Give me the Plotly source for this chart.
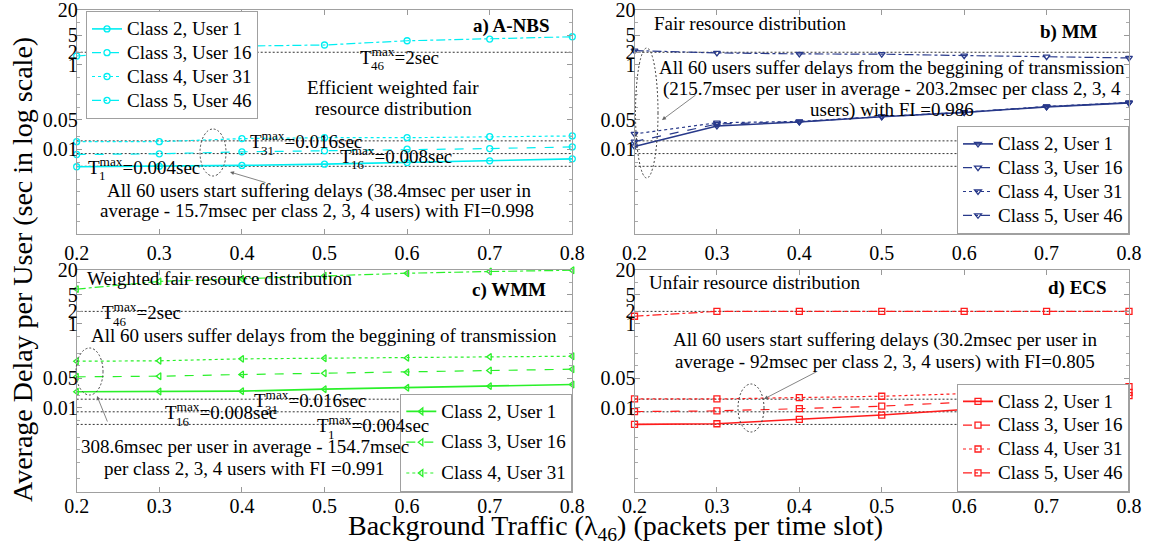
import math
import plotly.graph_objects as go

W, H = 1157, 553
FONT = "Liberation Serif"

# ---------------- data ----------------
traffic = [0.2, 0.3, 0.4, 0.5, 0.6, 0.7, 0.8]
x_tick_vals = [0.2, 0.3, 0.4, 0.5, 0.6, 0.7, 0.8]
x_tick_text = ["0.2", "0.3", "0.4", "0.5", "0.6", "0.7", "0.8"]
y_tick_vals = [0.01, 0.05, 1, 2, 5, 20]
y_tick_text = ["0.01", "0.05", "1", "2", "5", "20"]
y_limits = [1e-4, 20]

# maximum tolerated delays (sec): T46, T31, T16, T1
deadlines = [2, 0.016, 0.008, 0.004]

series_names = ["Class 2, User 1", "Class 3, User 16", "Class 4, User 31", "Class 5, User 46"]

# a) A-NBS
anbs_user1 = [0.0039, 0.0040, 0.0042, 0.0045, 0.0049, 0.0054, 0.0060]
anbs_user16 = [0.0076, 0.0079, 0.0088, 0.0093, 0.0102, 0.0105, 0.0115]
anbs_user31 = [0.0153, 0.0153, 0.0181, 0.0190, 0.0190, 0.0201, 0.0209]
anbs_user46 = [1.63, 2.3, 2.8, 2.97, 3.74, 4.1, 4.65]

# b) MM
mm_user1 = [0.0118, 0.036, 0.0447, 0.0596, 0.0753, 0.102, 0.127]
mm_user16 = [0.0154, 0.040, 0.0452, 0.0600, 0.0758, 0.103, 0.128]
mm_user31 = [0.0233, 0.043, 0.0460, 0.0605, 0.0762, 0.104, 0.129]
mm_user46 = [2.19, 1.93, 1.83, 1.80, 1.67, 1.58, 1.47]

# c) WMM
wmm_user1 = [0.0240, 0.0244, 0.0249, 0.0278, 0.0299, 0.0328, 0.0359]
wmm_user16 = [0.0547, 0.0567, 0.0621, 0.0668, 0.0706, 0.0773, 0.0832]
wmm_user31 = [0.129, 0.132, 0.147, 0.152, 0.155, 0.164, 0.170]
wmm_user46 = [6.8, 10.4, 12.0, 14.2, 16.3, 17.9, 19.2]

# d) ECS
ecs_user1 = [0.0040, 0.00415, 0.0053, 0.0067, 0.0091, 0.0135, 0.0195]
ecs_user16 = [0.0081, 0.0084, 0.0095, 0.0109, 0.0136, 0.0180, 0.0233]
ecs_user31 = [0.0162, 0.0162, 0.0175, 0.0188, 0.0217, 0.0259, 0.0321]
ecs_user46 = [1.53, 2.0, 2.0, 2.0, 2.0, 2.0, 2.0]

# ---------------- helpers ----------------
def px(x):
    return x / W


def py(y):
    return 1 - y / H


fig = go.Figure()

panels = [
    # axis suffix, legend name, colour, marker, series, legend flags
    ("", "legend", "#00eef2", "circle-open",
     [anbs_user1, anbs_user16, anbs_user31, anbs_user46], [True, True, True, True]),
    ("2", "legend2", "#28398a", "triangle-down-open",
     [mm_user1, mm_user16, mm_user31, mm_user46], [True, True, True, True]),
    ("3", "legend3", "#2af02a", "triangle-left-open",
     [wmm_user1, wmm_user16, wmm_user31, wmm_user46], [True, True, True, False]),
    ("4", "legend4", "#ff1c1c", "square-open",
     [ecs_user1, ecs_user16, ecs_user31, ecs_user46], [True, True, True, True]),
]
dashes = ["solid", "dash", "dot", "dashdot"]
widths = [1.6, 1.2, 1.2, 1.2]

for suffix, legend, colour, symbol, series, flags in panels:
    xa, ya = "x" + suffix, "y" + suffix
    for d in deadlines:
        fig.add_trace(go.Scatter(
            x=[traffic[0], traffic[-1]], y=[d, d], mode="lines",
            line=dict(color="#333333", width=1, dash="2px,2px"),
            xaxis=xa, yaxis=ya, showlegend=False, hoverinfo="skip"))
    for i, vals in enumerate(series):
        fig.add_trace(go.Scatter(
            x=traffic, y=vals, mode="lines+markers",
            # legend row spacing follows the legend font; the label itself is drawn larger
            name=f'<span style="font-size:19px">{series_names[i]}</span>',
            line=dict(color=colour, width=widths[i], dash=dashes[i]),
            marker=dict(symbol=symbol, size=6, color=colour, line=dict(width=1.3, color=colour)),
            xaxis=xa, yaxis=ya, legend=legend, showlegend=flags[i],
            legendgroup=legend + str(i), cliponaxis=False))

# ---------------- axes ----------------
tickfont = dict(family=FONT, size=20, color="black")
domains_x = {"": [76.7, 572.3], "2": [634.5, 1129], "3": [76.7, 572.3], "4": [634.5, 1129]}
domains_y = {"": [10, 234], "2": [10, 234], "3": [269.5, 491.5], "4": [269.5, 491.5]}
x_label_standoff = {"": 1, "2": 1, "3": -4, "4": -4}

for suffix in ["", "2", "3", "4"]:
    x0, x1 = domains_x[suffix]
    y0, y1 = domains_y[suffix]
    fig.layout["xaxis" + suffix] = dict(
        domain=[px(x0), px(x1)], anchor="y" + suffix, range=[traffic[0], traffic[-1]],
        tickvals=x_tick_vals, ticktext=x_tick_text, ticks="inside", ticklen=5,
        tickcolor="#999999", showline=True, linecolor="#a0a0a0", linewidth=1,
        mirror="ticks", showgrid=False, zeroline=False, tickfont=tickfont,
        automargin=False, ticklabelstandoff=x_label_standoff[suffix],
        ticklabeloverflow="allow")
    fig.layout["yaxis" + suffix] = dict(
        domain=[py(y1), py(y0)], anchor="x" + suffix, type="log",
        range=[math.log10(y_limits[0]), math.log10(y_limits[1]) + 1e-9],
        tickvals=y_tick_vals, ticktext=y_tick_text, ticks="inside", ticklen=5,
        tickcolor="#999999", showline=True, linecolor="#a0a0a0", linewidth=1,
        mirror="ticks", showgrid=False, zeroline=False, tickfont=tickfont,
        automargin=False, ticklabelstandoff=-6, ticklabeloverflow="allow",
        minor=dict(ticks="inside", ticklen=3, tickcolor="#aaaaaa", showgrid=False))

# ---------------- legends ----------------
legend_style = dict(font=dict(family=FONT, size=16, color="black"), bgcolor="white",
                    bordercolor="#a0a0a0", borderwidth=1, itemwidth=30,
                    traceorder="grouped", tracegroupgap=0)
fig.update_layout(
    legend=dict(x=px(86), y=py(11), xanchor="left", yanchor="top", **legend_style),
    legend2=dict(x=px(1129), y=py(234), xanchor="right", yanchor="bottom", **legend_style),
    legend3=dict(x=px(572.3), y=py(491.5), xanchor="right", yanchor="bottom",
                 **{**legend_style, "tracegroupgap": 7}),
    legend4=dict(x=px(1129), y=py(491.5), xanchor="right", yanchor="bottom", **legend_style),
)

# ---------------- annotations ----------------
annotations = []


def text(x, y, s, size=19, anchor="center", bold=False):
    annotations.append(dict(
        x=px(x), y=py(y), xref="paper", yref="paper", showarrow=False,
        text=f"<b>{s}</b>" if bold else s, xanchor=anchor, yanchor="middle",
        font=dict(family=FONT, size=size, color="black")))


def tmax(x, y, sub, value):
    text(x, y - 2, f"T<sup>max</sup>={value}", anchor="left")
    text(x + 10.5, y + 8, sub, size=13, anchor="left")


def arrow(hx, hy, tx, ty):
    annotations.append(dict(
        x=px(hx), y=py(hy), xref="paper", yref="paper", text="", showarrow=True,
        ax=tx - hx, ay=ty - hy, arrowhead=2, arrowsize=1, arrowwidth=0.8,
        arrowcolor="#666666"))


shapes = []


def ellipse(x0, y0, x1, y1):
    shapes.append(dict(type="circle", xref="paper", yref="paper",
                       x0=px(x0), x1=px(x1), y0=py(y1), y1=py(y0),
                       line=dict(color="#444444", width=1, dash="2px,2px")))


# a) A-NBS
text(552, 26, "a) A-NBS", anchor="right", bold=True)
tmax(358, 58, "46", "2sec")
text(393, 87, "Efficient weighted fair")
text(393, 108, "resource distribution")
tmax(248, 142, "31", "0.016sec")
tmax(338, 157, "16", "0.008sec")
tmax(86, 168, "1", "0.004sec")
ellipse(200, 129, 226, 176)
arrow(230, 172, 267, 183)
text(319, 191, "All 60 users start suffering delays (38.4msec per user in")
text(317, 211, "average - 15.7msec per class 2, 3, 4 users) with FI=0.998")

# b) MM
text(652, 24, "Fair resource distribution", anchor="left")
text(1100, 32, "b) MM", anchor="right", bold=True)
text(892, 67, "All 60 users suffer delays from the beggining of transmission")
text(892, 89, "(215.7msec per user in average - 203.2msec per class 2, 3, 4")
text(892, 110, "users) with FI =0.986")
ellipse(635.5, 48, 658, 178)
arrow(662, 120, 697, 94)

# c) WMM
text(85, 278, "Weighted fair resource distribution", anchor="left")
text(548, 290, "c) WMM", anchor="right", bold=True)
tmax(100, 313, "46", "2sec")
text(324, 335, "All 60 users suffer delays from the beggining of transmission")
ellipse(76, 348, 103, 395)
arrow(97, 396, 108, 423)
tmax(252, 401, "31", "0.016sec")
tmax(163, 413, "16", "0.008sec")
tmax(315, 426, "1", "0.004sec")
text(245, 447, "308.6msec per user in average - 154.7msec")
text(244, 468, "per class 2, 3, 4 users with FI =0.991")

# d) ECS
text(647, 282, "Unfair resource distribution", anchor="left")
text(1109, 288, "d) ECS", anchor="right", bold=True)
text(885, 340, "All 60 users start suffering delays (30.2msec per user in")
text(885, 362, "average - 92msec per class 2, 3, 4 users) with FI=0.805")
ellipse(738, 384, 764, 432)
arrow(764, 399, 818, 371)

# axis titles
annotations.append(dict(
    x=px(22), y=py(270), xref="paper", yref="paper", showarrow=False, textangle=-90,
    text="Average Delay per User (sec in log scale)", xanchor="center", yanchor="middle",
    font=dict(family=FONT, size=28, color="black")))
annotations.append(dict(
    x=px(615), y=py(527), xref="paper", yref="paper", showarrow=False,
    text="Background Traffic (\u03bb<sub>46</sub>) (packets per time slot)",
    xanchor="center", yanchor="middle", font=dict(family=FONT, size=28, color="black")))

fig.update_layout(
    width=W, height=H, margin=dict(l=0, r=0, t=0, b=0, autoexpand=False),
    paper_bgcolor="white", plot_bgcolor="white",
    annotations=annotations, shapes=shapes, hovermode=False,
)

fig.write_html("out.html")
